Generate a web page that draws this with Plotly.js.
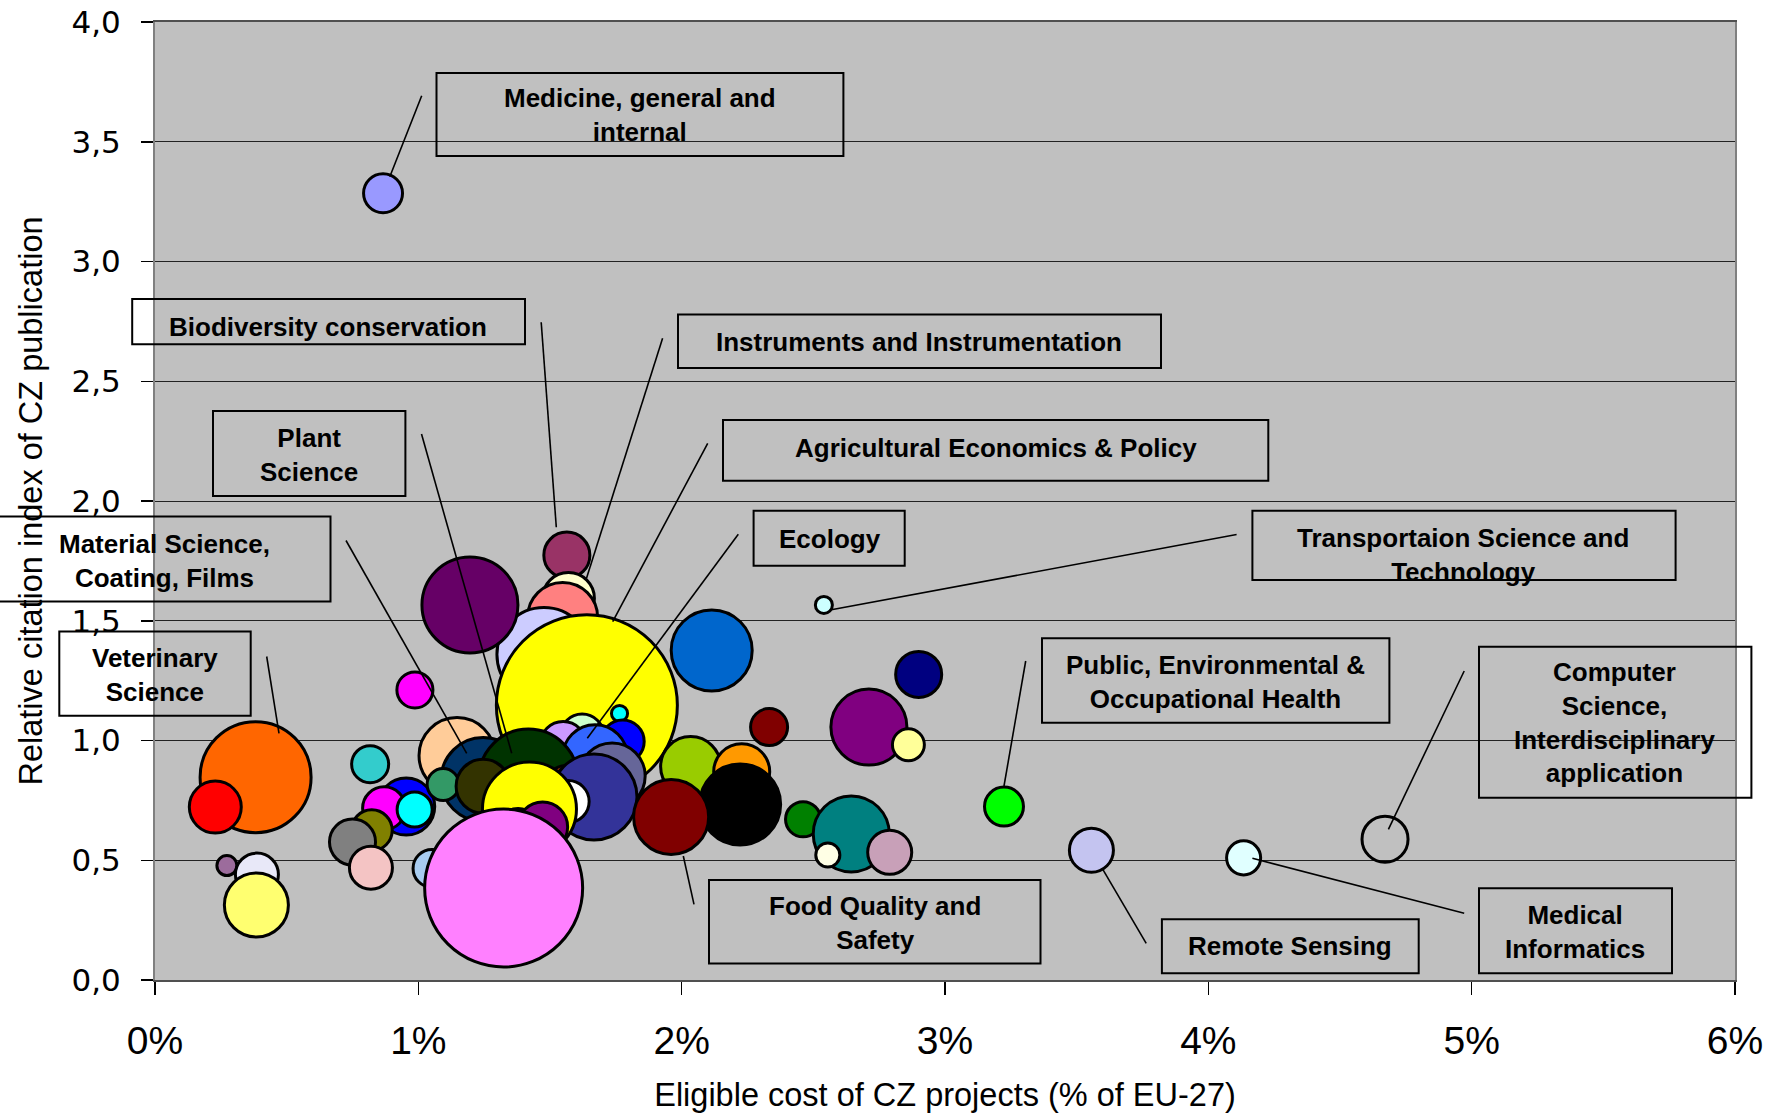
<!DOCTYPE html>
<html><head><meta charset="utf-8">
<script src="https://cdn.plot.ly/plotly-3.0.1.min.js"></script>
<style>html,body{margin:0;padding:0;background:#fff}</style>
</head><body><div id="chart" style="width:1787px;height:1115px"></div>
<script>
// ---- data (drawing order: back to front) ----
const fields = [
 "Field A1","Field A2","Field A3","Field A4","Field A5","Field A6","Field A7","Field A8","Field A9","Field A10","Field A11","Field A12",
 "Medicine, general and internal","Field A13",
 "Field B1","Field B2","Biodiversity conservation","Field B4","Field B3","Instruments and Instrumentation","Field B5","Field B6","Ecology","Field B7","Field B8","Field B9",
 "Field C1","Material Science, Coating, Films","Field C2","Plant Science","Field C3","Field C4","Field C5","Field C6","Field C7","Agricultural Economics & Policy","Field C8","Field C9","Veterinary Science","Field C10",
 "Field D1","Field D2","Field D3","Food Quality and Safety","Field D4","Field D5","Field D6","Field D7","Field D8","Field D9","Field D10","Field D11","Field D12",
 "Transportaion Science and Technology","Public, Environmental & Occupational Health","Remote Sensing","Medical Informatics","Computer Science, Interdisciplinary application"
];
const eligibleCost = [ // % of EU-27
 0.382,0.229,0.273,0.387,0.385,0.817,0.954,0.870,0.986,0.823,0.750,0.820,
 0.866,0.987,
 1.564,1.570,1.548,1.477,1.196,1.640,1.764,1.622,1.776,1.550,1.671,1.736,
 1.147,1.246,1.094,1.418,1.561,1.246,1.667,1.569,1.422,1.379,1.472,1.052,1.324,
 2.034,2.228,2.222,1.960,2.114,2.332,2.461,2.644,2.555,2.790,2.711,2.861,2.900,
 2.540,3.224,3.556,4.134,4.671
];
const citationIndex = [
 0.847,0.722,0.478,0.440,0.313,0.901,0.724,0.717,0.712,0.625,0.576,0.469,
 3.285,1.211,
 1.774,1.593,1.514,1.359,1.566,1.147,1.113,1.021,0.996,0.983,0.930,0.852,
 0.937,0.837,0.816,0.841,0.808,0.809,0.764,0.745,0.714,0.628,0.639,0.466,0.384,
 0.891,0.869,0.733,0.681,1.376,1.056,0.671,0.610,0.522,0.533,1.056,0.982,1.276,
 1.566,0.724,0.542,0.510,0.588
];
const projectVolume = [
 123.2,27.0,4.0,18.5,41.0,13.7,32.5,18.5,12.3,16.8,21.2,18.5,
 15.2,13.0,
 21.2,27.0,49.0,88.4,92.2,327.6,2.6,18.5,18.5,21.2,42.3,43.6,
 57.8,70.6,10.2,98.0,17.6,29.2,74.0,17.6,88.4,17.6,25.0,14.4,249.6,
 36.0,31.4,65.6,56.3,65.6,13.7,12.3,57.8,5.8,19.4,57.8,10.2,21.2,
 2.9,15.2,19.4,11.6,21.2
];
// ---- styles ----
const fieldColors = [
 "#FF6600","#FF0000","#9C6C9C","#E8E8F8","#FFFF70","#33CCCC","#0000FF","#FF00FF","#00FFFF","#808000","#808080","#F4C4C4",
 "#9999FF","#FF00FF",
 "#993366","#FFFFCC","#FF8080","#CCCCFF","#660066","#FFFF00","#00FFFF","#CCFFCC","#0000FF","#CC99FF","#3366FF","#666699",
 "#FFCC99","#003366","#339966","#003300","#993300","#333300","#333399","#FFFFFF","#FFFF00","#000099","#800080","#A8CCF0","#FF80FF",
 "#99CC00","#FF9900","#000000","#800000","#0066CC","#800000","#008000","#008080","#FFFFE5","#C8A0B8","#800080","#FFFF99","#000080",
 "#CCFFFF","#00FF00","#C4C4F0","#E0FFFF","rgba(0,0,0,0)"
];

const P = {L:155, R:1735, T:22, B:980};
const fx = px => (px - P.L) / (P.R - P.L);
const fy = py => (P.B - py) / (P.B - P.T);

const callouts = [
 {t:"Medicine, general and<br>internal", box:[436.5,73,843.4,156], tx:640, ty:115, ln:[421.7,95.7,389.8,176.7]},
 {t:"Biodiversity conservation", box:[132.2,299,525,344.3], tx:328, ty:327, ln:[541.2,322.3,556.3,527.3]},
 {t:"Instruments and Instrumentation", box:[678,314.6,1161,368], tx:918.6, ty:342, ln:[662.6,338.3,586.5,578.3]},
 {t:"Plant<br>Science", box:[213,411,405.4,496], tx:309, ty:455, ln:[421.5,434,511.7,753.3]},
 {t:"Agricultural Economics &amp; Policy", box:[723,420,1268.3,480.7], tx:996, ty:448, ln:[707.7,443.3,612.7,621.7]},
 {t:"Ecology", box:[753.6,510.7,904.7,565.7], tx:829.7, ty:539, ln:[738.3,534.3,587.3,738.3]},
 {t:"Material Science,<br>Coating, Films", box:[-2,516.5,330.5,601.5], tx:164, ty:561, ln:[346,540.5,466.7,753.3]},
 {t:"Transportaion Science and<br>Technology", box:[1252.4,510.7,1675.6,580], tx:1463.4, ty:554.5, ln:[1236.6,534.5,830,610]},
 {t:"Veterinary<br>Science", box:[59.3,631.4,250.7,715.7], tx:155, ty:675.3, ln:[266.7,656.5,279,733.3]},
 {t:"Public, Environmental &amp;<br>Occupational Health", box:[1042,638.3,1389.4,722.7], tx:1215, ty:681.5, ln:[1025.7,661,1004,786]},
 {t:"Computer<br>Science,<br>Interdisciplinary<br>application", box:[1479,646.7,1751.4,797.7], tx:1614, ty:722.5, ln:[1464.2,671,1388.4,829.3]},
 {t:"Food Quality and<br>Safety", box:[709,880,1040.5,963.5], tx:875.3, ty:923, ln:[683.3,856,694,904.3]},
 {t:"Remote Sensing", box:[1161.9,919.3,1418.7,973.3], tx:1290, ty:946, ln:[1102.2,868.3,1146.2,943.3]},
 {t:"Medical<br>Informatics", box:[1479,888.3,1672,973.3], tx:1575, ty:932.2, ln:[1252.4,858.3,1464.2,913.3]}
];

const shapes = [];
const annotations = [];
callouts.forEach(c => {
  shapes.push({type:'rect', xref:'paper', yref:'paper', x0:fx(c.box[0]), x1:fx(c.box[2]), y0:fy(c.box[3]), y1:fy(c.box[1]),
    line:{color:'#000', width:2}, fillcolor:'rgba(0,0,0,0)', layer:'above'});
  shapes.push({type:'line', xref:'paper', yref:'paper', x0:fx(c.ln[0]), y0:fy(c.ln[1]), x1:fx(c.ln[2]), y1:fy(c.ln[3]),
    line:{color:'#000', width:1.6}, layer:'above'});
  annotations.push({xref:'paper', yref:'paper', x:fx(c.tx), y:fy(c.ty), xanchor:'center', yanchor:'middle',
    text:c.t, showarrow:false, align:'center',
    font:{family:'Liberation Sans, Arial, sans-serif', size:26, color:'#000', weight:'bold'}});
});

const trace = {
  type:'scatter', mode:'markers',
  x: eligibleCost, y: citationIndex, text: fields,
  hoverinfo:'text',
  marker:{
    size: projectVolume, sizemode:'area', sizeref:0.02,
    color: fieldColors, opacity:1,
    line:{color:'#000', width:3}
  },
  cliponaxis:false
};

const layout = {
  width:1787, height:1115,
  margin:{l:P.L, r:1787-P.R, t:P.T, b:1115-P.B, pad:0},
  paper_bgcolor:'#ffffff', plot_bgcolor:'#C0C0C0',
  showlegend:false,
  separators:', ',
  xaxis:{
    range:[0,6], dtick:1, tick0:0, ticksuffix:'%', showgrid:false, zeroline:false,
    showline:true, linecolor:'#505050', linewidth:2, mirror:true,
    ticks:'outside', ticklen:13, tickwidth:1.5, tickcolor:'#000',
    ticklabelstandoff:12,
    tickfont:{family:'Liberation Sans, Arial, sans-serif', size:39, color:'#000'},
    title:{text:'Eligible cost of CZ projects (% of EU-27)', standoff:22,
      font:{family:'Liberation Sans, Arial, sans-serif', size:32.5, color:'#000'}},
    automargin:false, fixedrange:true
  },
  yaxis:{
    range:[0,4], dtick:0.5, tick0:0, tickformat:'.1f',
    showgrid:true, gridcolor:'#222', gridwidth:1, zeroline:false,
    showline:true, linecolor:'#808080', linewidth:2, mirror:true,
    ticks:'outside', ticklen:12, tickwidth:1.5, tickcolor:'#000',
    ticklabelstandoff:14,
    tickfont:{family:'DejaVu Sans, sans-serif', size:31, color:'#000'},
    title:{text:'Relative citation index of CZ publication', standoff:19,
      font:{family:'Liberation Sans, Arial, sans-serif', size:32.5, color:'#000'}},
    automargin:false, fixedrange:true
  },
  shapes: shapes,
  annotations: annotations
};

Plotly.newPlot('chart', [trace], layout, {staticPlot:true, displayModeBar:false});
</script>
</body></html>
